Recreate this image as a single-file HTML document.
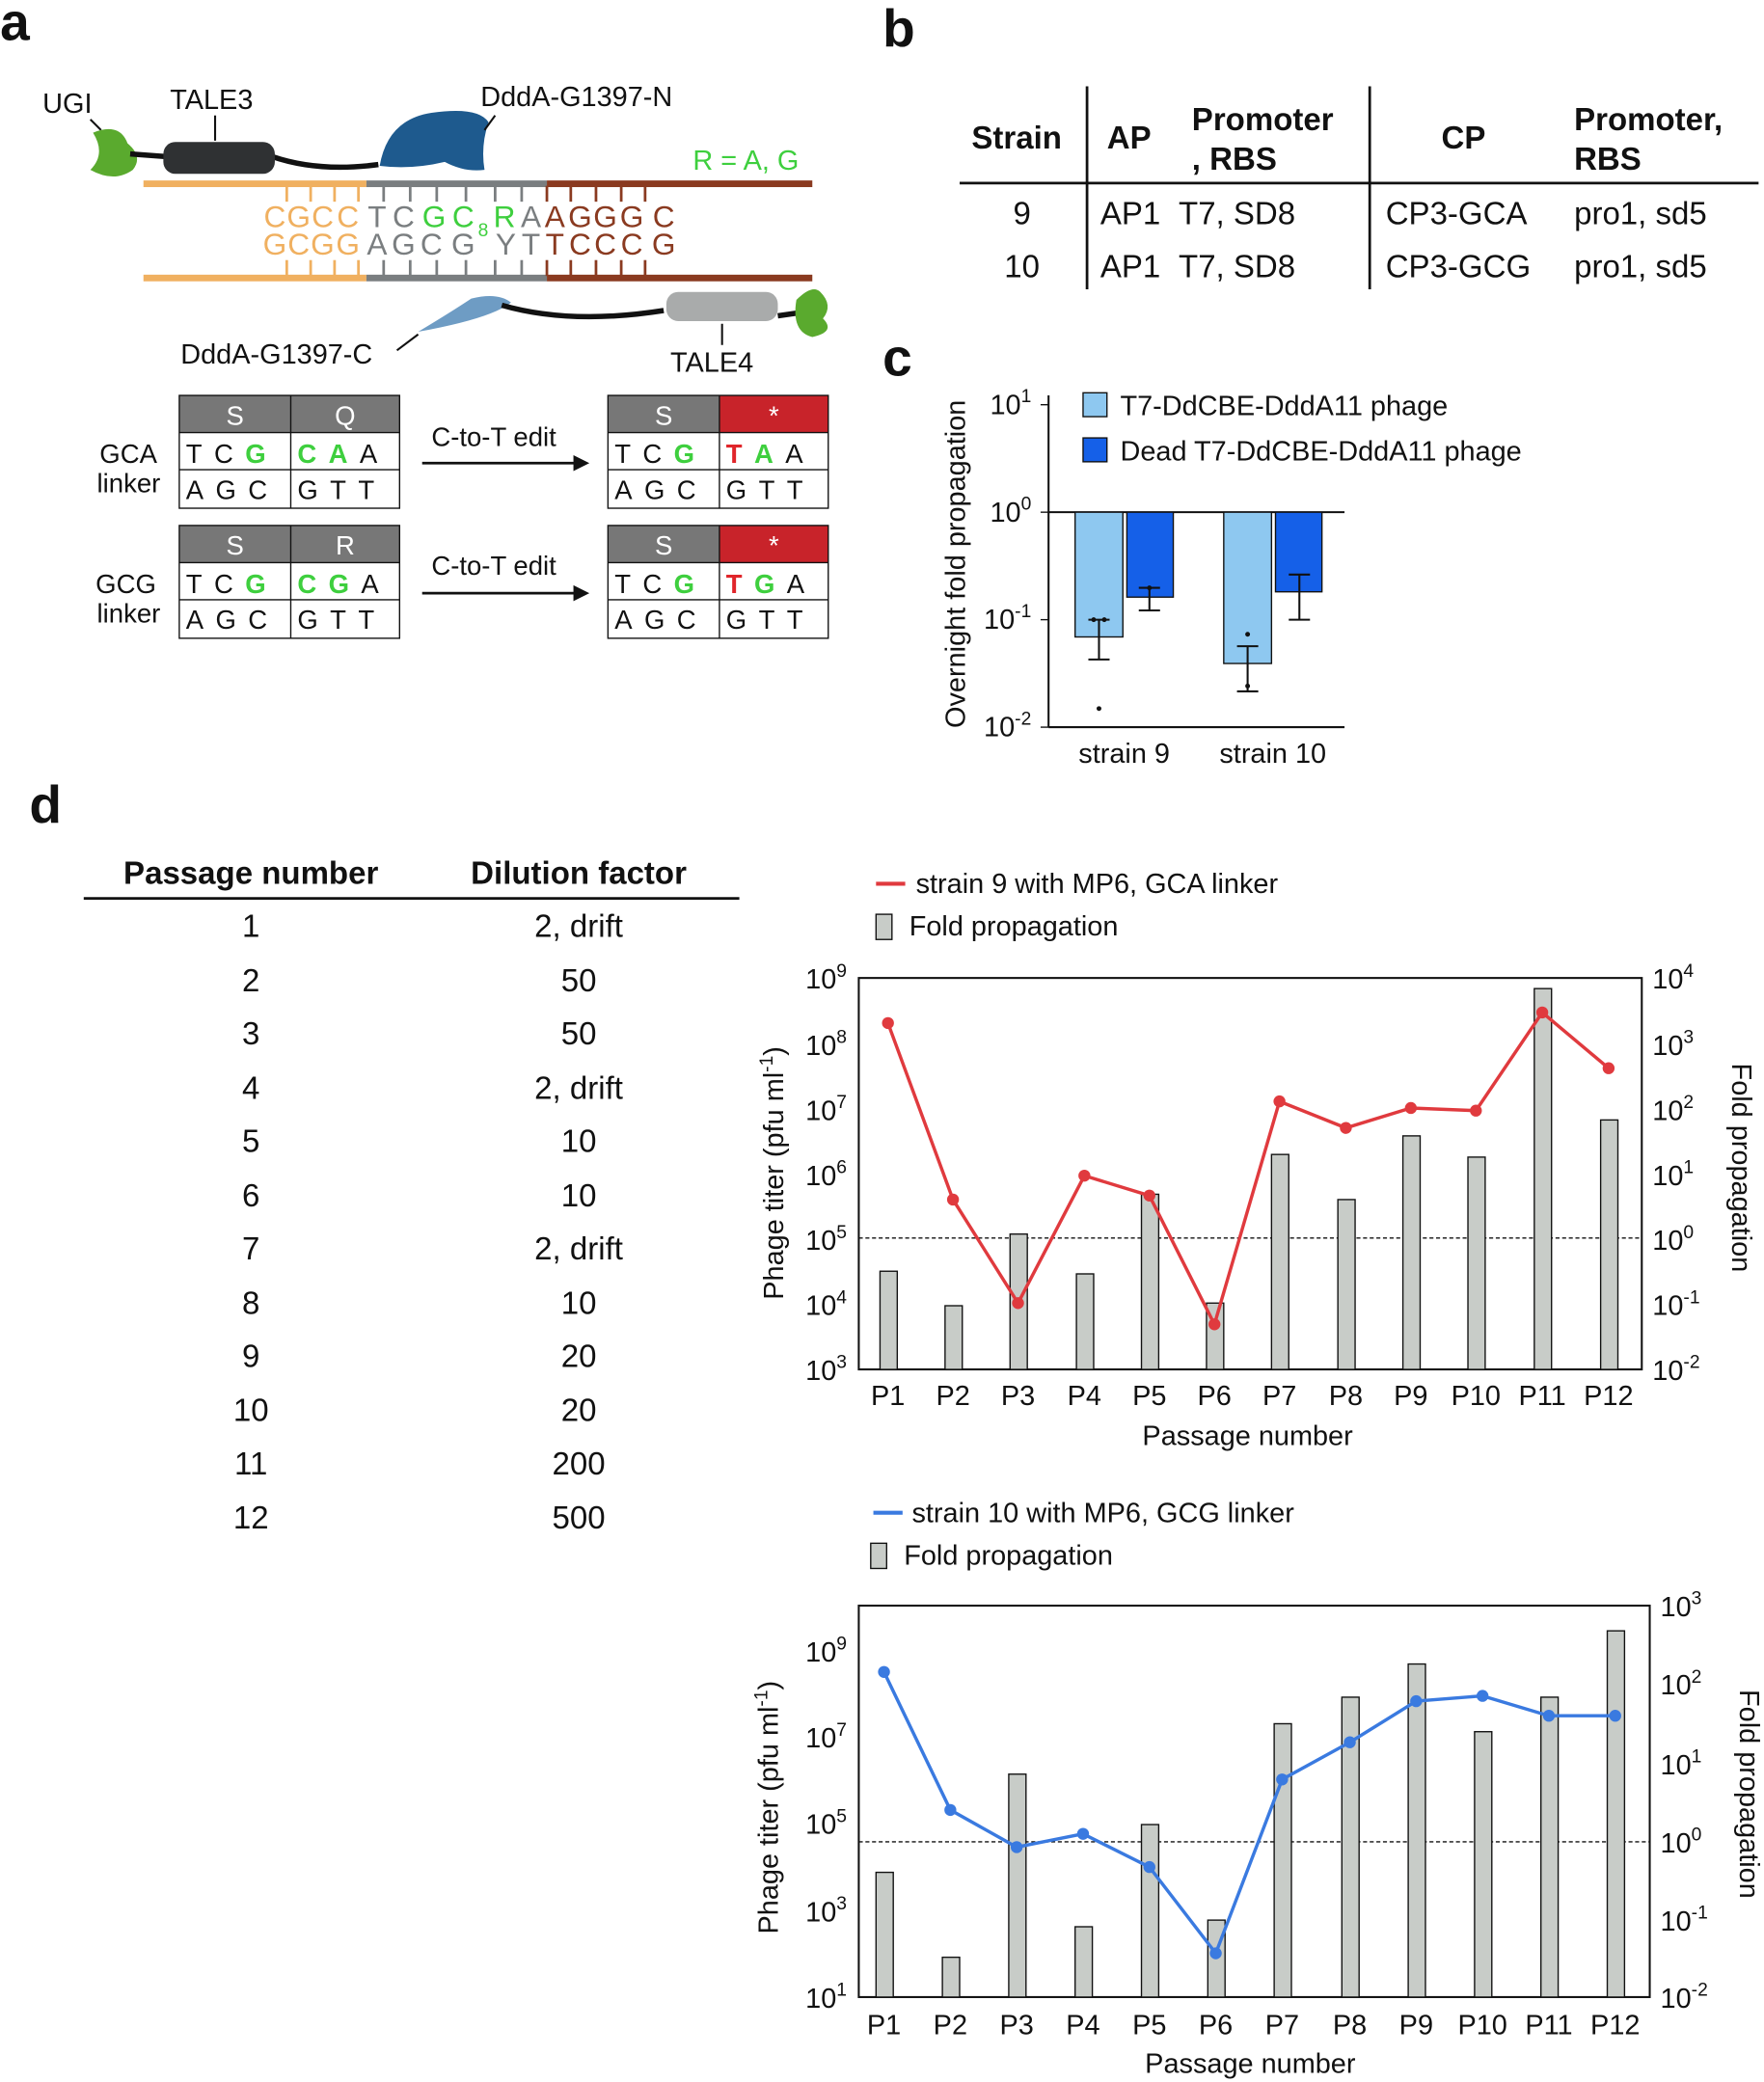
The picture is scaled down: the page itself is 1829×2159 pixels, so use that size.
<!DOCTYPE html>
<html><head><meta charset="utf-8"><style>
html,body{margin:0;padding:0;background:#fff;}
svg{display:block;}
text{font-family:"Liberation Sans",Arial,sans-serif;fill:#111;}
</style></head><body>
<svg width="1829" height="2159" viewBox="0 0 1329 1569" xmlns="http://www.w3.org/2000/svg">
<!-- panel letters -->
<text x="0" y="30" font-size="40" font-weight="bold">a</text>
<text x="665" y="35" font-size="40" font-weight="bold">b</text>
<text x="665" y="283" font-size="40" font-weight="bold">c</text>
<text x="22" y="620" font-size="40" font-weight="bold">d</text>

<!-- panel a diagram -->
<text x="32" y="85" font-size="21">UGI</text>
<line x1="68" y1="90" x2="76" y2="98" stroke="#111" stroke-width="1.5"/>
<path d="M70 100 Q90 92 96 108 Q108 118 100 128 Q86 138 68 128 Q80 116 70 100Z" fill="#5aaa2e"/>
<text x="128" y="82" font-size="21">TALE3</text>
<line x1="162" y1="87" x2="162" y2="106" stroke="#111" stroke-width="1.5"/>
<path d="M98 116 L125 118 M205 118 Q240 130 285 124" stroke="#111" stroke-width="4" fill="none"/>
<rect x="123" y="107" width="84" height="24" rx="9" fill="#2f3133"/>
<path d="M286 125 Q292 90 325 85 Q360 80 368 92 Q362 110 365 128 Q350 130 335 122 Q310 128 286 125Z" fill="#1e5a8e"/>
<text x="362" y="80" font-size="21">DddA-G1397-N</text>
<line x1="373" y1="87" x2="365" y2="98" stroke="#111" stroke-width="1.5"/>
<text x="522" y="128" font-size="21" style="fill:#3ecf3e">R = A, G</text>
<rect x="108" y="136" width="168" height="5" fill="#f0b060"/>
<rect x="276" y="136" width="136" height="5" fill="#7a7e80"/>
<rect x="412" y="136" width="200" height="5" fill="#8a3a20"/>
<rect x="108" y="207" width="168" height="5" fill="#f0b060"/>
<rect x="276" y="207" width="136" height="5" fill="#7a7e80"/>
<rect x="412" y="207" width="200" height="5" fill="#8a3a20"/>
<g stroke-width="2">
<g stroke="#f0b060"><line x1="216" y1="140" x2="216" y2="152"/><line x1="234" y1="140" x2="234" y2="152"/><line x1="252" y1="140" x2="252" y2="152"/><line x1="270" y1="140" x2="270" y2="152"/>
<line x1="216" y1="196" x2="216" y2="208"/><line x1="234" y1="196" x2="234" y2="208"/><line x1="252" y1="196" x2="252" y2="208"/><line x1="270" y1="196" x2="270" y2="208"/></g>
<g stroke="#7a7e80"><line x1="289" y1="140" x2="289" y2="152"/><line x1="309" y1="140" x2="309" y2="152"/><line x1="329" y1="140" x2="329" y2="152"/><line x1="351" y1="140" x2="351" y2="152"/><line x1="373" y1="140" x2="373" y2="152"/><line x1="393" y1="140" x2="393" y2="152"/>
<line x1="289" y1="196" x2="289" y2="208"/><line x1="309" y1="196" x2="309" y2="208"/><line x1="329" y1="196" x2="329" y2="208"/><line x1="351" y1="196" x2="351" y2="208"/><line x1="373" y1="196" x2="373" y2="208"/><line x1="393" y1="196" x2="393" y2="208"/></g>
<g stroke="#8a3a20"><line x1="412" y1="140" x2="412" y2="152"/><line x1="430" y1="140" x2="430" y2="152"/><line x1="449" y1="140" x2="449" y2="152"/><line x1="468" y1="140" x2="468" y2="152"/><line x1="486" y1="140" x2="486" y2="152"/>
<line x1="412" y1="196" x2="412" y2="208"/><line x1="430" y1="196" x2="430" y2="208"/><line x1="449" y1="196" x2="449" y2="208"/><line x1="468" y1="196" x2="468" y2="208"/><line x1="486" y1="196" x2="486" y2="208"/></g>
</g>
<g font-size="23" text-anchor="middle">
<text x="207" y="171" style="fill:#f0b060">C</text><text x="225" y="171" style="fill:#f0b060">G</text><text x="243" y="171" style="fill:#f0b060">C</text><text x="262" y="171" style="fill:#f0b060">C</text>
<text x="284" y="171" style="fill:#7a7e80">T</text><text x="304" y="171" style="fill:#7a7e80">C</text>
<text x="327" y="171" style="fill:#3ecf3e">G</text><text x="349" y="171" style="fill:#3ecf3e">C</text><text x="364" y="178" font-size="14" style="fill:#3ecf3e">8</text><text x="380" y="171" style="fill:#3ecf3e">R</text>
<text x="400" y="171" style="fill:#7a7e80">A</text>
<text x="418" y="171" style="fill:#8a3a20">A</text><text x="437" y="171" style="fill:#8a3a20">G</text><text x="456" y="171" style="fill:#8a3a20">G</text><text x="476" y="171" style="fill:#8a3a20">G</text><text x="500" y="171" style="fill:#8a3a20">C</text>
<text x="207" y="192" style="fill:#f0b060">G</text><text x="225" y="192" style="fill:#f0b060">C</text><text x="243" y="192" style="fill:#f0b060">G</text><text x="262" y="192" style="fill:#f0b060">G</text>
<text x="284" y="192" style="fill:#7a7e80">A</text><text x="304" y="192" style="fill:#7a7e80">G</text><text x="325" y="192" style="fill:#7a7e80">C</text><text x="349" y="192" style="fill:#7a7e80">G</text><text x="381" y="192" style="fill:#7a7e80">Y</text><text x="400" y="192" style="fill:#7a7e80">T</text>
<text x="418" y="192" style="fill:#8a3a20">T</text><text x="437" y="192" style="fill:#8a3a20">C</text><text x="456" y="192" style="fill:#8a3a20">C</text><text x="476" y="192" style="fill:#8a3a20">C</text><text x="500" y="192" style="fill:#8a3a20">G</text>
</g>
<path d="M315 250 Q340 235 355 225 Q375 220 385 228 Q370 240 315 250Z" fill="#6e9cc4"/>
<path d="M378 230 Q430 245 500 234" stroke="#111" stroke-width="4" fill="none"/>
<rect x="502" y="220" width="84" height="22" rx="9" fill="#a9abab"/>
<path d="M586 238 L600 236" stroke="#111" stroke-width="4"/>
<path d="M600 226 Q612 214 618 220 Q628 230 620 240 Q630 250 612 254 Q596 250 600 226Z" fill="#5aaa2e"/>
<text x="136" y="274" font-size="21">DddA-G1397-C</text>
<line x1="299" y1="264" x2="315" y2="252" stroke="#111" stroke-width="1.5"/>
<text x="505" y="280" font-size="21">TALE4</text>
<line x1="544" y1="244" x2="544" y2="260" stroke="#111" stroke-width="1.5"/>

<!-- codon boxes -->
<g font-size="20">
<rect x="135" y="298" width="166" height="28" fill="#777"/><line x1="219" y1="298" x2="219" y2="383" stroke="#111"/>
<rect x="135" y="298" width="166" height="85" fill="none" stroke="#111"/>
<line x1="135" y1="326" x2="301" y2="326" stroke="#111"/><line x1="135" y1="354" x2="301" y2="354" stroke="#111"/>
<text x="177" y="320" text-anchor="middle" style="fill:#fff">S</text><text x="260" y="320" text-anchor="middle" style="fill:#fff">Q</text>
<text x="140" y="349" letter-spacing="9">TC<tspan style="fill:#3ecf3e;font-weight:bold">G</tspan></text><text x="224" y="349" letter-spacing="9"><tspan style="fill:#3ecf3e;font-weight:bold">CA</tspan>A</text>
<text x="140" y="376" letter-spacing="9">AGC</text><text x="224" y="376" letter-spacing="9">GTT</text>
<text x="75" y="349">GCA</text><text x="73" y="371">linker</text>
<text x="325" y="336">C-to-T edit</text><line x1="318" y1="349" x2="435" y2="349" stroke="#111" stroke-width="2"/><path d="M444 349 L432 343 L432 355Z" fill="#111"/>
<rect x="458" y="298" width="166" height="28" fill="#777"/><rect x="542" y="298" width="82" height="28" fill="#c8232a"/>
<rect x="458" y="298" width="166" height="85" fill="none" stroke="#111"/><line x1="542" y1="298" x2="542" y2="383" stroke="#111"/>
<line x1="458" y1="326" x2="624" y2="326" stroke="#111"/><line x1="458" y1="354" x2="624" y2="354" stroke="#111"/>
<text x="500" y="320" text-anchor="middle" style="fill:#fff">S</text><text x="583" y="320" text-anchor="middle" style="fill:#fff">*</text>
<text x="463" y="349" letter-spacing="9">TC<tspan style="fill:#3ecf3e;font-weight:bold">G</tspan></text><text x="547" y="349" letter-spacing="9"><tspan style="fill:#e0252a;font-weight:bold">T</tspan><tspan style="fill:#3ecf3e;font-weight:bold">A</tspan>A</text>
<text x="463" y="376" letter-spacing="9">AGC</text><text x="547" y="376" letter-spacing="9">GTT</text>

<rect x="135" y="396" width="166" height="28" fill="#777"/>
<rect x="135" y="396" width="166" height="85" fill="none" stroke="#111"/><line x1="219" y1="396" x2="219" y2="481" stroke="#111"/>
<line x1="135" y1="424" x2="301" y2="424" stroke="#111"/><line x1="135" y1="452" x2="301" y2="452" stroke="#111"/>
<text x="177" y="418" text-anchor="middle" style="fill:#fff">S</text><text x="260" y="418" text-anchor="middle" style="fill:#fff">R</text>
<text x="140" y="447" letter-spacing="9">TC<tspan style="fill:#3ecf3e;font-weight:bold">G</tspan></text><text x="224" y="447" letter-spacing="9"><tspan style="fill:#3ecf3e;font-weight:bold">CG</tspan>A</text>
<text x="140" y="474" letter-spacing="9">AGC</text><text x="224" y="474" letter-spacing="9">GTT</text>
<text x="72" y="447">GCG</text><text x="73" y="469">linker</text>
<text x="325" y="433">C-to-T edit</text><line x1="318" y1="447" x2="435" y2="447" stroke="#111" stroke-width="2"/><path d="M444 447 L432 441 L432 453Z" fill="#111"/>
<rect x="458" y="396" width="166" height="28" fill="#777"/><rect x="542" y="396" width="82" height="28" fill="#c8232a"/>
<rect x="458" y="396" width="166" height="85" fill="none" stroke="#111"/><line x1="542" y1="396" x2="542" y2="481" stroke="#111"/>
<line x1="458" y1="424" x2="624" y2="424" stroke="#111"/><line x1="458" y1="452" x2="624" y2="452" stroke="#111"/>
<text x="500" y="418" text-anchor="middle" style="fill:#fff">S</text><text x="583" y="418" text-anchor="middle" style="fill:#fff">*</text>
<text x="463" y="447" letter-spacing="9">TC<tspan style="fill:#3ecf3e;font-weight:bold">G</tspan></text><text x="547" y="447" letter-spacing="9"><tspan style="fill:#e0252a;font-weight:bold">T</tspan><tspan style="fill:#3ecf3e;font-weight:bold">G</tspan>A</text>
<text x="463" y="474" letter-spacing="9">AGC</text><text x="547" y="474" letter-spacing="9">GTT</text>
</g>

<!-- panel b table -->
<g font-size="24">
<text x="732" y="112" font-weight="bold">Strain</text>
<text x="834" y="112" font-weight="bold">AP</text>
<text x="898" y="98" font-weight="bold">Promoter</text><text x="898" y="128" font-weight="bold">, RBS</text>
<text x="1086" y="112" font-weight="bold">CP</text>
<text x="1186" y="98" font-weight="bold">Promoter,</text><text x="1186" y="128" font-weight="bold">RBS</text>
<line x1="723" y1="138" x2="1325" y2="138" stroke="#111" stroke-width="2"/>
<line x1="819" y1="65" x2="819" y2="218" stroke="#111" stroke-width="2"/>
<line x1="1032" y1="65" x2="1032" y2="218" stroke="#111" stroke-width="2"/>
<text x="770" y="169" text-anchor="middle">9</text><text x="770" y="209" text-anchor="middle">10</text>
<text x="829" y="169">AP1</text><text x="829" y="209">AP1</text>
<text x="888" y="169">T7, SD8</text><text x="888" y="209">T7, SD8</text>
<text x="1044" y="169">CP3-GCA</text><text x="1044" y="209">CP3-GCG</text>
<text x="1186" y="169">pro1, sd5</text><text x="1186" y="209">pro1, sd5</text>
</g>

<!-- panel c -->
<g font-size="21">
<line x1="790" y1="298" x2="790" y2="548" stroke="#111" stroke-width="1.5"/>
<line x1="790" y1="548" x2="1013" y2="548" stroke="#111" stroke-width="1.5"/>
<line x1="790" y1="386" x2="1013" y2="386" stroke="#111" stroke-width="1.5"/>
<g stroke="#111"><line x1="784" y1="305" x2="790" y2="305"/><line x1="784" y1="386" x2="790" y2="386"/><line x1="784" y1="467" x2="790" y2="467"/><line x1="784" y1="548" x2="790" y2="548"/></g>
<text x="777" y="312" text-anchor="end">10<tspan font-size="14" dy="-9">1</tspan></text>
<text x="777" y="393" text-anchor="end">10<tspan font-size="14" dy="-9">0</tspan></text>
<text x="777" y="474" text-anchor="end">10<tspan font-size="14" dy="-9">-1</tspan></text>
<text x="777" y="555" text-anchor="end">10<tspan font-size="14" dy="-9">-2</tspan></text>
<text transform="translate(727 425) rotate(-90)" text-anchor="middle">Overnight fold propagation</text>
<rect x="810" y="386" width="36" height="94" fill="#8ec8f0" stroke="#111"/>
<rect x="849" y="386" width="35" height="64" fill="#1560e8" stroke="#111"/>
<rect x="922" y="386" width="36" height="114" fill="#8ec8f0" stroke="#111"/>
<rect x="961" y="386" width="35" height="60" fill="#1560e8" stroke="#111"/>
<g stroke="#111" stroke-width="1.5" fill="none">
<path d="M828 467 V497 M820 467 H836 M820 497 H836"/>
<path d="M866 443 V460 M858 443 H874 M858 460 H874"/>
<path d="M940 487 V521 M932 487 H948 M932 521 H948"/>
<path d="M979 433 V467 M971 433 H987 M971 467 H987"/>
</g>
<g fill="#111"><circle cx="828" cy="534" r="1.8"/><circle cx="824" cy="467" r="1.8"/><circle cx="832" cy="467" r="1.8"/><circle cx="866" cy="443" r="1.8"/><circle cx="940" cy="478" r="1.8"/><circle cx="940" cy="517" r="1.8"/></g>
<text x="847" y="575" text-anchor="middle">strain 9</text>
<text x="959" y="575" text-anchor="middle">strain 10</text>
<rect x="816" y="296" width="18" height="18" fill="#8ec8f0" stroke="#111"/>
<text x="844" y="313">T7-DdCBE-DddA11 phage</text>
<rect x="816" y="330" width="18" height="18" fill="#1560e8" stroke="#111"/>
<text x="844" y="347">Dead T7-DdCBE-DddA11 phage</text>
</g>

<!-- panel d table -->
<g font-size="24">
<text x="189" y="666" text-anchor="middle" font-weight="bold">Passage number</text>
<text x="436" y="666" text-anchor="middle" font-weight="bold">Dilution factor</text>
<line x1="63" y1="677" x2="557" y2="677" stroke="#111" stroke-width="2"/>
<text x="189" y="706" text-anchor="middle">1</text><text x="436" y="706" text-anchor="middle">2, drift</text>
<text x="189" y="747" text-anchor="middle">2</text><text x="436" y="747" text-anchor="middle">50</text>
<text x="189" y="787" text-anchor="middle">3</text><text x="436" y="787" text-anchor="middle">50</text>
<text x="189" y="828" text-anchor="middle">4</text><text x="436" y="828" text-anchor="middle">2, drift</text>
<text x="189" y="868" text-anchor="middle">5</text><text x="436" y="868" text-anchor="middle">10</text>
<text x="189" y="909" text-anchor="middle">6</text><text x="436" y="909" text-anchor="middle">10</text>
<text x="189" y="949" text-anchor="middle">7</text><text x="436" y="949" text-anchor="middle">2, drift</text>
<text x="189" y="990" text-anchor="middle">8</text><text x="436" y="990" text-anchor="middle">10</text>
<text x="189" y="1030" text-anchor="middle">9</text><text x="436" y="1030" text-anchor="middle">20</text>
<text x="189" y="1071" text-anchor="middle">10</text><text x="436" y="1071" text-anchor="middle">20</text>
<text x="189" y="1111" text-anchor="middle">11</text><text x="436" y="1111" text-anchor="middle">200</text>
<text x="189" y="1152" text-anchor="middle">12</text><text x="436" y="1152" text-anchor="middle">500</text>
</g>

<!-- chart d1 -->
<g font-size="21">
<line x1="660" y1="666" x2="682" y2="666" stroke="#e03a3e" stroke-width="3"/>
<text x="690" y="673">strain 9 with MP6, GCA linker</text>
<rect x="660" y="689" width="12" height="19" fill="#c8ccc8" stroke="#111"/>
<text x="685" y="705">Fold propagation</text>
<rect x="647" y="737" width="590" height="295" fill="none" stroke="#111" stroke-width="1.5"/>
<line x1="647" y1="933" x2="1237" y2="933" stroke="#111" stroke-dasharray="3,2"/>
<g fill="#c8ccc8" stroke="#111">
<rect x="663" y="958" width="13" height="74"/><rect x="712" y="984" width="13" height="48"/><rect x="761" y="930" width="13" height="102"/><rect x="811" y="960" width="13" height="72"/><rect x="860" y="900" width="13" height="132"/><rect x="909" y="982" width="13" height="50"/><rect x="958" y="870" width="13" height="162"/><rect x="1008" y="904" width="13" height="128"/><rect x="1057" y="856" width="13" height="176"/><rect x="1106" y="872" width="13" height="160"/><rect x="1156" y="745" width="13" height="287"/><rect x="1206" y="844" width="13" height="188"/>
</g>
<polyline points="669,771 718,904 767,982 817,886 866,901 915,998 964,830 1014,850 1063,835 1112,837 1162,763 1212,805" fill="none" stroke="#e03a3e" stroke-width="2.5"/>
<g fill="#e03a3e"><circle cx="669" cy="771" r="4.5"/><circle cx="718" cy="904" r="4.5"/><circle cx="767" cy="982" r="4.5"/><circle cx="817" cy="886" r="4.5"/><circle cx="866" cy="901" r="4.5"/><circle cx="915" cy="998" r="4.5"/><circle cx="964" cy="830" r="4.5"/><circle cx="1014" cy="850" r="4.5"/><circle cx="1063" cy="835" r="4.5"/><circle cx="1112" cy="837" r="4.5"/><circle cx="1162" cy="763" r="4.5"/><circle cx="1212" cy="805" r="4.5"/></g>
<g text-anchor="end">
<text x="638" y="745">10<tspan font-size="14" dy="-9">9</tspan></text>
<text x="638" y="795">10<tspan font-size="14" dy="-9">8</tspan></text>
<text x="638" y="844">10<tspan font-size="14" dy="-9">7</tspan></text>
<text x="638" y="893">10<tspan font-size="14" dy="-9">6</tspan></text>
<text x="638" y="942">10<tspan font-size="14" dy="-9">5</tspan></text>
<text x="638" y="991">10<tspan font-size="14" dy="-9">4</tspan></text>
<text x="638" y="1040">10<tspan font-size="14" dy="-9">3</tspan></text>
</g>
<g>
<text x="1245" y="745">10<tspan font-size="14" dy="-9">4</tspan></text>
<text x="1245" y="795">10<tspan font-size="14" dy="-9">3</tspan></text>
<text x="1245" y="844">10<tspan font-size="14" dy="-9">2</tspan></text>
<text x="1245" y="893">10<tspan font-size="14" dy="-9">1</tspan></text>
<text x="1245" y="942">10<tspan font-size="14" dy="-9">0</tspan></text>
<text x="1245" y="991">10<tspan font-size="14" dy="-9">-1</tspan></text>
<text x="1245" y="1040">10<tspan font-size="14" dy="-9">-2</tspan></text>
</g>
<g text-anchor="middle">
<text x="669" y="1059">P1</text><text x="718" y="1059">P2</text><text x="767" y="1059">P3</text><text x="817" y="1059">P4</text><text x="866" y="1059">P5</text><text x="915" y="1059">P6</text><text x="964" y="1059">P7</text><text x="1014" y="1059">P8</text><text x="1063" y="1059">P9</text><text x="1112" y="1059">P10</text><text x="1162" y="1059">P11</text><text x="1212" y="1059">P12</text>
<text x="940" y="1089">Passage number</text>
<text transform="translate(590 884) rotate(-90)">Phage titer (pfu ml<tspan font-size="14" dy="-8">-1</tspan><tspan dy="8">)</tspan></text>
<text transform="translate(1305 880) rotate(90)">Fold propagation</text>
</g>
</g>

<!-- chart d2 -->
<g font-size="21">
<line x1="658" y1="1140" x2="680" y2="1140" stroke="#3a7ae0" stroke-width="3"/>
<text x="687" y="1147">strain 10 with MP6, GCG linker</text>
<rect x="656" y="1163" width="12" height="19" fill="#c8ccc8" stroke="#111"/>
<text x="681" y="1179">Fold propagation</text>
<rect x="647" y="1210" width="596" height="295" fill="none" stroke="#111" stroke-width="1.5"/>
<line x1="647" y1="1388" x2="1243" y2="1388" stroke="#111" stroke-dasharray="3,2"/>
<g fill="#c8ccc8" stroke="#111">
<rect x="660" y="1411" width="13" height="94"/><rect x="710" y="1475" width="13" height="30"/><rect x="760" y="1337" width="13" height="168"/><rect x="810" y="1452" width="13" height="53"/><rect x="860" y="1375" width="13" height="130"/><rect x="910" y="1447" width="13" height="58"/><rect x="960" y="1299" width="13" height="206"/><rect x="1011" y="1279" width="13" height="226"/><rect x="1061" y="1254" width="13" height="251"/><rect x="1111" y="1305" width="13" height="200"/><rect x="1161" y="1279" width="13" height="226"/><rect x="1211" y="1229" width="13" height="276"/>
</g>
<polyline points="666,1260 716,1364 766,1392 816,1382 866,1407 916,1472 966,1341 1017,1313 1067,1282 1117,1278 1167,1293 1217,1293" fill="none" stroke="#3a7ae0" stroke-width="2.5"/>
<g fill="#3a7ae0"><circle cx="666" cy="1260" r="4.5"/><circle cx="716" cy="1364" r="4.5"/><circle cx="766" cy="1392" r="4.5"/><circle cx="816" cy="1382" r="4.5"/><circle cx="866" cy="1407" r="4.5"/><circle cx="916" cy="1472" r="4.5"/><circle cx="966" cy="1341" r="4.5"/><circle cx="1017" cy="1313" r="4.5"/><circle cx="1067" cy="1282" r="4.5"/><circle cx="1117" cy="1278" r="4.5"/><circle cx="1167" cy="1293" r="4.5"/><circle cx="1217" cy="1293" r="4.5"/></g>
<g text-anchor="end">
<text x="638" y="1252">10<tspan font-size="14" dy="-9">9</tspan></text>
<text x="638" y="1317">10<tspan font-size="14" dy="-9">7</tspan></text>
<text x="638" y="1382">10<tspan font-size="14" dy="-9">5</tspan></text>
<text x="638" y="1448">10<tspan font-size="14" dy="-9">3</tspan></text>
<text x="638" y="1513">10<tspan font-size="14" dy="-9">1</tspan></text>
</g>
<g>
<text x="1251" y="1218">10<tspan font-size="14" dy="-9">3</tspan></text>
<text x="1251" y="1277">10<tspan font-size="14" dy="-9">2</tspan></text>
<text x="1251" y="1337">10<tspan font-size="14" dy="-9">1</tspan></text>
<text x="1251" y="1396">10<tspan font-size="14" dy="-9">0</tspan></text>
<text x="1251" y="1455">10<tspan font-size="14" dy="-9">-1</tspan></text>
<text x="1251" y="1513">10<tspan font-size="14" dy="-9">-2</tspan></text>
</g>
<g text-anchor="middle">
<text x="666" y="1533">P1</text><text x="716" y="1533">P2</text><text x="766" y="1533">P3</text><text x="816" y="1533">P4</text><text x="866" y="1533">P5</text><text x="916" y="1533">P6</text><text x="966" y="1533">P7</text><text x="1017" y="1533">P8</text><text x="1067" y="1533">P9</text><text x="1117" y="1533">P10</text><text x="1167" y="1533">P11</text><text x="1217" y="1533">P12</text>
<text x="942" y="1562">Passage number</text>
<text transform="translate(586 1362) rotate(-90)">Phage titer (pfu ml<tspan font-size="14" dy="-8">-1</tspan><tspan dy="8">)</tspan></text>
<text transform="translate(1311 1352) rotate(90)">Fold propagation</text>
</g>
</g>
</svg>
</body></html>
